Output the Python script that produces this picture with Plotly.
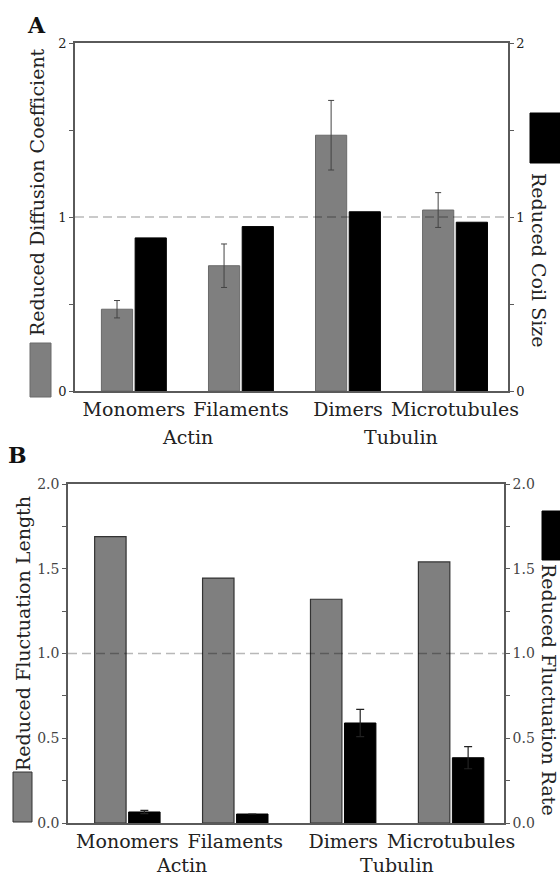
import plotly.graph_objects as go

# ---------------- data ----------------
categories = ["Monomers", "Filaments", "Dimers", "Microtubules"]
groups = ["Actin", "Tubulin"]
group_pos = [0.5, 2.5]

# Panel A
diffusion = [0.47, 0.72, 1.47, 1.04]
diffusion_err = [0.05, 0.125, 0.20, 0.10]
coil_size = [0.88, 0.945, 1.03, 0.97]

# Panel B
fluct_length = [1.69, 1.445, 1.32, 1.54]
fluct_rate = [0.065, 0.053, 0.59, 0.385]
fluct_rate_err = [0.01, 0.0, 0.08, 0.065]

a_tickvals = [0, 0.5, 1, 1.5, 2]
a_ticktext = ["0", "", "1", "", "2"]
b_tickvals = [0, 0.25, 0.5, 0.75, 1.0, 1.25, 1.5, 1.75, 2.0]
b_ticktext = ["0.0", "", "0.5", "", "1.0", "", "1.5", "", "2.0"]

W, H = 560, 880
SERIF = "DejaVu Serif"
GRAY = "#7f7f7f"
AX = "#5a5a5a"

def px(x):
    return x / W

def py(y):
    return 1 - y / H

fig = go.Figure()

# Panel A bars
fig.add_trace(go.Bar(x=categories, y=diffusion, xaxis="x", yaxis="y",
                     offsetgroup="1",
                     marker=dict(color=GRAY, line=dict(color="#6a6a6a", width=1)),
                     error_y=dict(type="data", array=diffusion_err, color="#444",
                                  thickness=1, width=3)))
fig.add_trace(go.Bar(x=categories, y=coil_size, xaxis="x", yaxis="y2",
                     offsetgroup="2",
                     marker=dict(color="#000", line=dict(color="#000", width=1))))

# Panel B bars
fig.add_trace(go.Bar(x=categories, y=fluct_length, xaxis="x2", yaxis="y3",
                     offsetgroup="1",
                     marker=dict(color=GRAY, line=dict(color="#333", width=1.2))))
fig.add_trace(go.Bar(x=categories, y=fluct_rate, xaxis="x2", yaxis="y4",
                     offsetgroup="2",
                     marker=dict(color="#000", line=dict(color="#000", width=1)),
                     error_y=dict(type="data", array=fluct_rate_err, color="#222",
                                  thickness=1.2, width=4)))

tickfont_a = dict(family=SERIF, size=13, color="#222")
tickfont_b = dict(family=SERIF, size=14, color="#444")
xfont = dict(family=SERIF, size=19, color="#222")

common_x = dict(type="category", showline=True, mirror=True, linecolor=AX,
                linewidth=1.5, ticks="", tickangle=0, tickfont=xfont,
                showgrid=False, zeroline=False, fixedrange=True)
common_y = dict(range=[0, 2], showline=True, linecolor=AX, linewidth=1.5,
                ticks="outside", ticklen=4, tickcolor=AX, showgrid=False,
                zeroline=False, fixedrange=True)

fig.update_layout(
    width=W, height=H,
    margin=dict(l=0, r=0, t=0, b=0, autoexpand=False),
    paper_bgcolor="white", plot_bgcolor="white",
    showlegend=False,
    bargap=0.37, bargroupgap=0.075,
    xaxis=dict(domain=[px(75), px(508)], anchor="y", range=[-0.55, 3.495], **common_x),
    yaxis=dict(domain=[py(391), py(43)], anchor="x", side="left",
               tickvals=a_tickvals, ticktext=a_ticktext, tickfont=tickfont_a,
               **common_y),
    yaxis2=dict(overlaying="y", anchor="x", side="right",
                tickvals=a_tickvals, ticktext=a_ticktext, tickfont=tickfont_a,
                **common_y),
    xaxis2=dict(domain=[px(68), px(504)], anchor="y3", range=[-0.55, 3.49], **common_x),
    yaxis3=dict(domain=[py(823), py(484)], anchor="x2", side="left",
                tickvals=b_tickvals, ticktext=b_ticktext, tickfont=tickfont_b,
                **common_y),
    yaxis4=dict(overlaying="y3", anchor="x2", side="right",
                tickvals=b_tickvals, ticktext=b_ticktext, tickfont=tickfont_b,
                **common_y),
)

# dashed reference lines at 1
for xr, yr in (("x", "y"), ("x2", "y3")):
    fig.add_shape(type="line", xref=f"{xr} domain", yref=yr, x0=0, x1=1, y0=1, y1=1,
                  line=dict(color="rgba(0,0,0,0.28)", width=1.5, dash="9px,5px"),
                  layer="above")

# legend swatches
swatches = [
    (30, 343, 51, 397, GRAY, "#6a6a6a"),
    (530, 113, 562, 163, "#000", "#000"),
    (13, 772, 32, 822, GRAY, "#333"),
    (542, 511, 562, 560, "#000", "#000"),
]
for x0, y0, x1, y1, fc, lc in swatches:
    fig.add_shape(type="rect", xref="paper", yref="paper",
                  x0=px(x0), x1=px(x1), y0=py(y1), y1=py(y0),
                  fillcolor=fc, line=dict(color=lc, width=1))

titlefont = dict(family=SERIF, size=19, color="#222")
titles = [
    ("Reduced Diffusion Coefficient", 37, 192, -90),
    ("Reduced Coil Size", 539, 260, 90),
    ("Reduced Fluctuation Length", 23, 634, -90),
    ("Reduced Fluctuation Rate", 549, 690, 90),
]
for t, x, y, ang in titles:
    fig.add_annotation(text=t, xref="paper", yref="paper", x=px(x), y=py(y),
                       xanchor="center", yanchor="middle", textangle=ang,
                       showarrow=False, font=titlefont)

# group labels
for xr, ycen in (("x", 437), ("x2", 865)):
    for g, gp in zip(groups, group_pos):
        fig.add_annotation(text=g, xref=xr, yref="paper", x=gp, y=py(ycen),
                           xanchor="center", yanchor="middle", showarrow=False,
                           font=xfont)

# panel letters
for lab, x, y in (("A", 36, 25), ("B", 17, 455)):
    fig.add_annotation(text=f"<b>{lab}</b>", xref="paper", yref="paper",
                       x=px(x), y=py(y), xanchor="center", yanchor="middle",
                       showarrow=False, font=dict(family=SERIF, size=22, color="#111"))

fig.write_html("out.html",
               config={"displayModeBar": False},
               post_script="document.body.style.margin='0';"
                           "document.body.style.overflow='hidden';")
